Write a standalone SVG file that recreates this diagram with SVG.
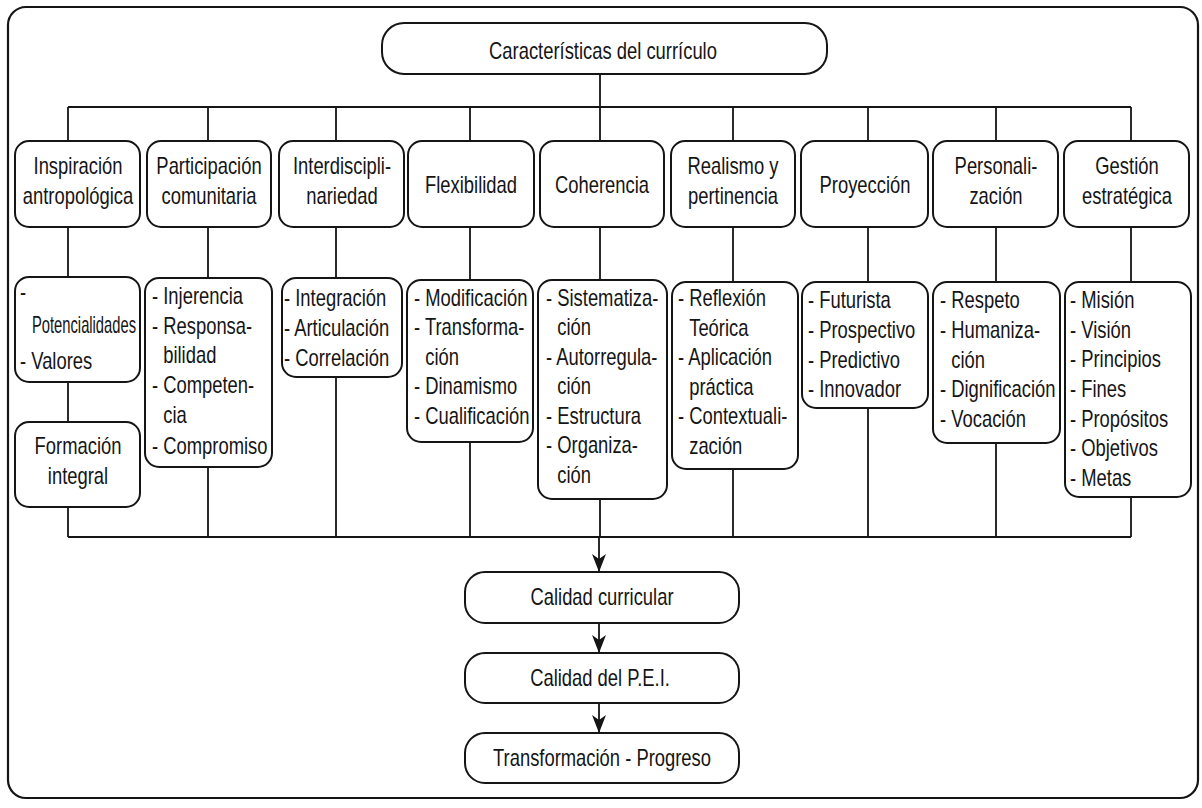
<svg xmlns="http://www.w3.org/2000/svg" width="1202" height="808" viewBox="0 0 1202 808">
<defs>
<style>
.frame{fill:#fff;stroke:#151515;stroke-width:2.2}
.box{fill:#fff;stroke:#151515;stroke-width:2}
.ln{fill:none;stroke:#151515;stroke-width:1.8}
text{font-family:"Liberation Sans",Arial,sans-serif;font-size:23px;fill:#151515}
.c{text-anchor:middle}
</style>
<marker id="ah" markerUnits="userSpaceOnUse" markerWidth="20" markerHeight="14" refX="18" refY="7" orient="auto">
<path d="M0,0 L18,7 L0,14 L5,7 Z" fill="#151515"/>
</marker>
</defs>
<rect x="0" y="0" width="1202" height="808" fill="#fff"/>
<rect class="frame" x="8" y="7" width="1190" height="791" rx="18"/>

<g id="connectors">
<path class="ln" d="M600,74 V141 M68,107 H1131 M68,107 V141 M208,107 V141 M336,107 V141 M470,107 V141 M733,107 V141 M868,107 V141 M996,107 V141 M1131,107 V141"/>
<path class="ln" d="M68,227 V277 M208,227 V278 M336,227 V278 M470,227 V280 M600,227 V280 M733,227 V282 M868,227 V282 M996,227 V282 M1131,227 V282"/>
<path class="ln" d="M68,382 V422 M68,507 V537 M208,467 V537 M336,377 V537 M470,442 V537 M600,499 V537 M733,469 V537 M868,408 V537 M996,443 V537 M1131,497 V537 M68,537 H1131"/>
<path class="ln" d="M599,537 V572" marker-end="url(#ah)"/>
<path class="ln" d="M599,623 V653" marker-end="url(#ah)"/>
<path class="ln" d="M599,703 V733" marker-end="url(#ah)"/>
</g>

<g id="n-top">
<rect class="box" x="382" y="23" width="445" height="51" rx="22"/>
<text class="c" transform="translate(603,0) scale(0.8,1)" x="0" y="59">Características del currículo</text>
</g>

<g id="h1"><rect class="box" x="15" y="141" width="125" height="86" rx="14"/>
<text class="c" transform="translate(78,0) scale(0.8,1)"><tspan x="0" y="174">Inspiración</tspan><tspan x="0" y="204">antropológica</tspan></text></g>
<g id="h2"><rect class="box" x="147" y="141" width="124" height="86" rx="14"/>
<text class="c" transform="translate(209,0) scale(0.8,1)"><tspan x="0" y="174">Participación</tspan><tspan x="0" y="204">comunitaria</tspan></text></g>
<g id="h3"><rect class="box" x="279" y="141" width="125" height="86" rx="14"/>
<text class="c" transform="translate(342,0) scale(0.8,1)"><tspan x="0" y="174">Interdiscipli-</tspan><tspan x="0" y="204">nariedad</tspan></text></g>
<g id="h4"><rect class="box" x="408" y="141" width="126" height="86" rx="14"/>
<text class="c" transform="translate(471,0) scale(0.8,1)" x="0" y="193">Flexibilidad</text></g>
<g id="h5"><rect class="box" x="540" y="141" width="124" height="86" rx="14"/>
<text class="c" transform="translate(602,0) scale(0.8,1)" x="0" y="193">Coherencia</text></g>
<g id="h6"><rect class="box" x="671" y="141" width="124" height="86" rx="14"/>
<text class="c" transform="translate(733,0) scale(0.8,1)"><tspan x="0" y="174">Realismo y</tspan><tspan x="0" y="204">pertinencia</tspan></text></g>
<g id="h7"><rect class="box" x="801" y="141" width="127" height="86" rx="14"/>
<text class="c" transform="translate(865,0) scale(0.8,1)" x="0" y="193">Proyección</text></g>
<g id="h8"><rect class="box" x="933" y="141" width="125" height="86" rx="14"/>
<text class="c" transform="translate(996,0) scale(0.8,1)"><tspan x="0" y="174">Personali-</tspan><tspan x="0" y="204">zación</tspan></text></g>
<g id="h9"><rect class="box" x="1064" y="141" width="125" height="86" rx="14"/>
<text class="c" transform="translate(1127,0) scale(0.8,1)"><tspan x="0" y="174">Gestión</tspan><tspan x="0" y="204">estratégica</tspan></text></g>

<g id="s1"><rect class="box" x="15" y="277" width="125" height="105" rx="14"/>
<text transform="translate(20,0) scale(0.8,1)"><tspan x="0" y="300">-</tspan><tspan x="0" y="369">- Valores</tspan></text>
<text transform="translate(32,0) scale(0.8,1)" x="0" y="333" textLength="130" lengthAdjust="spacingAndGlyphs">Potencialidades</text></g>
<g id="s1b"><rect class="box" x="15" y="422" width="125" height="85" rx="14"/>
<text class="c" transform="translate(78,0) scale(0.8,1)"><tspan x="0" y="454">Formación</tspan><tspan x="0" y="484">integral</tspan></text></g>
<g id="s2"><rect class="box" x="145" y="278" width="127" height="189" rx="14"/>
<text transform="translate(152,0) scale(0.8,1)"><tspan x="0" y="304">- Injerencia</tspan><tspan x="0" y="334">- Responsa-</tspan><tspan x="14" y="363">bilidad</tspan><tspan x="0" y="393">- Competen-</tspan><tspan x="14" y="423">cia</tspan><tspan x="0" y="454">- Compromiso</tspan></text></g>
<g id="s3"><rect class="box" x="282" y="278" width="120" height="99" rx="14"/>
<text transform="translate(284,0) scale(0.8,1)"><tspan x="0" y="306">- Integración</tspan><tspan x="0" y="336">- Articulación</tspan><tspan x="0" y="366">- Correlación</tspan></text></g>
<g id="s4"><rect class="box" x="407" y="280" width="126" height="162" rx="14"/>
<text transform="translate(414,0) scale(0.8,1)"><tspan x="0" y="306">- Modificación</tspan><tspan x="0" y="335">- Transforma-</tspan><tspan x="14" y="365">ción</tspan><tspan x="0" y="394">- Dinamismo</tspan><tspan x="0" y="424">- Cualificación</tspan></text></g>
<g id="s5"><rect class="box" x="538" y="280" width="129" height="219" rx="14"/>
<text transform="translate(546,0) scale(0.8,1)"><tspan x="0" y="306">- Sistematiza-</tspan><tspan x="14" y="335">ción</tspan><tspan x="0" y="365">- Autorregula-</tspan><tspan x="14" y="394">ción</tspan><tspan x="0" y="424">- Estructura</tspan><tspan x="0" y="453">- Organiza-</tspan><tspan x="14" y="483">ción</tspan></text></g>
<g id="s6"><rect class="box" x="672" y="282" width="126" height="187" rx="14"/>
<text transform="translate(678,0) scale(0.8,1)"><tspan x="0" y="306">- Reflexión</tspan><tspan x="14" y="336">Teórica</tspan><tspan x="0" y="365">- Aplicación</tspan><tspan x="14" y="395">práctica</tspan><tspan x="0" y="424">- Contextuali-</tspan><tspan x="14" y="454">zación</tspan></text></g>
<g id="s7"><rect class="box" x="802" y="282" width="126" height="126" rx="14"/>
<text transform="translate(808,0) scale(0.8,1)"><tspan x="0" y="308">- Futurista</tspan><tspan x="0" y="338">- Prospectivo</tspan><tspan x="0" y="368">- Predictivo</tspan><tspan x="0" y="397">- Innovador</tspan></text></g>
<g id="s8"><rect class="box" x="933" y="282" width="127" height="161" rx="14"/>
<text transform="translate(940,0) scale(0.8,1)"><tspan x="0" y="308">- Respeto</tspan><tspan x="0" y="338">- Humaniza-</tspan><tspan x="14" y="368">ción</tspan><tspan x="0" y="397">- Dignificación</tspan><tspan x="0" y="427">- Vocación</tspan></text></g>
<g id="s9"><rect class="box" x="1065" y="282" width="126" height="215" rx="14"/>
<text transform="translate(1070,0) scale(0.8,1)"><tspan x="0" y="308">- Misión</tspan><tspan x="0" y="338">- Visión</tspan><tspan x="0" y="367">- Principios</tspan><tspan x="0" y="397">- Fines</tspan><tspan x="0" y="427">- Propósitos</tspan><tspan x="0" y="456">- Objetivos</tspan><tspan x="0" y="486">- Metas</tspan></text></g>

<g id="b1"><rect class="box" x="465" y="572" width="274" height="51" rx="20"/>
<text class="c" transform="translate(602,0) scale(0.8,1)" x="0" y="605">Calidad curricular</text></g>
<g id="b2"><rect class="box" x="465" y="653" width="274" height="50" rx="20"/>
<text class="c" transform="translate(600,0) scale(0.8,1)" x="0" y="686">Calidad del P.E.I.</text></g>
<g id="b3"><rect class="box" x="465" y="733" width="274" height="50" rx="20"/>
<text class="c" transform="translate(602,0) scale(0.8,1)" x="0" y="766">Transformación - Progreso</text></g>
</svg>
